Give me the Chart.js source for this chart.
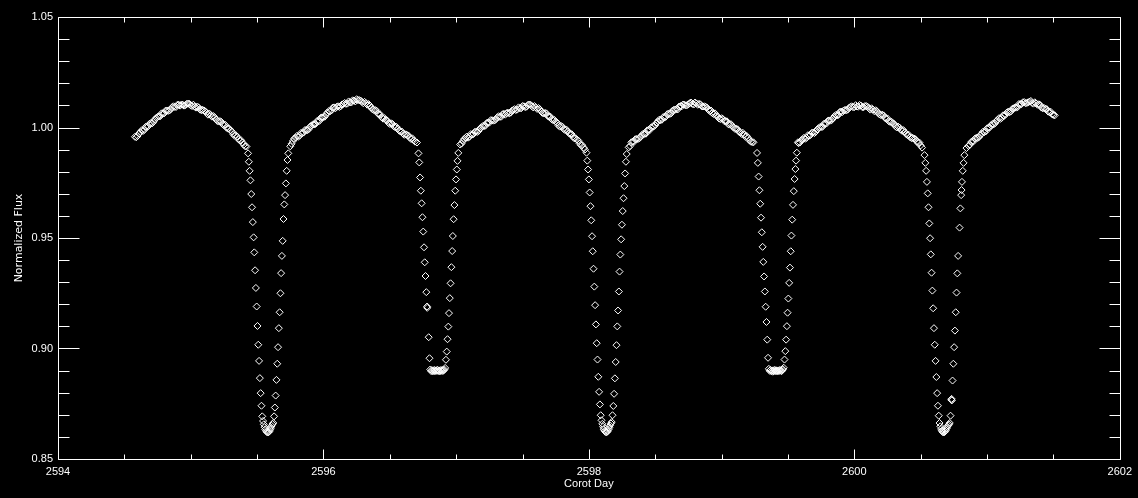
<!DOCTYPE html>
<html>
<head>
<meta charset="utf-8">
<script src="https://cdn.jsdelivr.net/npm/chart.js@4.4.1/dist/chart.umd.min.js"></script>
<style>
html, body { margin: 0; padding: 0; background: #000; }
#wrap { width: 1138px; height: 498px; }
</style>
</head>
<body>
<div id="wrap"><canvas id="c" width="1138" height="498"></canvas></div>
<script>
// ---- Labels and ticks ----
const xAxisTitle = 'Corot Day';
const yAxisTitle = 'Normalized Flux';
const xTickLabels = [2594, 2596, 2598, 2600, 2602];
const yTickLabels = [0.85, 0.90, 0.95, 1.00, 1.05];
const xMinorTicksPerMajor = 4;
const yMinorTicksPerMajor = 5;

// ---- Data (Corot day, normalized flux) ----
const hump1Day = [2594.58,2594.60,2594.62,2594.64,2594.66,2594.68,2594.70,2594.72,2594.74,2594.76,2594.78,2594.80,2594.82,2594.84,2594.86,2594.88,2594.90,2594.92,2594.94,2594.96,2594.98,2595.00,2595.02,2595.04,2595.06,2595.08,2595.10,2595.12,2595.14,2595.16,2595.18,2595.20,2595.22,2595.24,2595.26,2595.28,2595.30,2595.32,2595.34,2595.36,2595.38,2595.40,2595.42];
const hump1Flux = [0.9958,0.9962,0.9979,0.9984,1.0003,1.0006,1.0020,1.0026,1.0043,1.0050,1.0064,1.0064,1.0077,1.0077,1.0092,1.0093,1.0103,1.0099,1.0103,1.0101,1.0108,1.0100,1.0103,1.0090,1.0090,1.0078,1.0077,1.0066,1.0063,1.0049,1.0046,1.0030,1.0029,1.0015,1.0012,0.9995,0.9987,0.9970,0.9965,0.9947,0.9942,0.9922,0.9914];
const hump1bDay = [2594.59,2594.61,2594.63,2594.65,2594.67,2594.69,2594.71,2594.73,2594.75,2594.77,2594.79,2594.81,2594.83,2594.85,2594.87,2594.89,2594.91,2594.93,2594.95,2594.97,2594.99,2595.01,2595.03,2595.05,2595.07,2595.09,2595.11,2595.13,2595.15,2595.17,2595.19,2595.21,2595.23,2595.25,2595.27,2595.29,2595.31,2595.33,2595.35,2595.37,2595.39,2595.41];
const hump1bFlux = [0.9956,0.9973,0.9987,0.9989,1.0002,1.0017,1.0019,1.0037,1.0048,1.0051,1.0064,1.0076,1.0075,1.0083,1.0096,1.0093,1.0103,1.0104,1.0099,1.0107,1.0107,1.0097,1.0094,1.0095,1.0081,1.0080,1.0073,1.0058,1.0056,1.0052,1.0037,1.0027,1.0026,1.0011,0.9999,0.9995,0.9982,0.9963,0.9959,0.9941,0.9932,0.9915];

const primary1Day = [2595.432,2595.438,2595.444,2595.450,2595.456,2595.462,2595.468,2595.474,2595.479,2595.485,2595.491,2595.497,2595.503,2595.509,2595.515,2595.521,2595.527,2595.533,2595.539,2595.545,2595.551,2595.557,2595.562,2595.568,2595.574,2595.580,2595.586,2595.592,2595.598,2595.604,2595.610,2595.616,2595.622,2595.628,2595.634,2595.640,2595.646,2595.652,2595.658,2595.664,2595.670,2595.676,2595.681,2595.687,2595.693,2595.699,2595.705,2595.711,2595.717,2595.723,2595.729,2595.735];
const primary1Flux = [0.9883,0.9845,0.9804,0.9761,0.9699,0.9639,0.9572,0.9503,0.9435,0.9354,0.9274,0.9190,0.9102,0.9017,0.8944,0.8866,0.8798,0.8741,0.8693,0.8672,0.8657,0.8644,0.8634,0.8627,0.8622,0.8620,0.8621,0.8625,0.8632,0.8640,0.8650,0.8658,0.8663,0.8693,0.8733,0.8787,0.8858,0.8931,0.9006,0.9092,0.9164,0.9250,0.9341,0.9419,0.9487,0.9586,0.9652,0.9694,0.9747,0.9804,0.9853,0.9883];

const hump2Day = [2595.75,2595.77,2595.79,2595.81,2595.83,2595.85,2595.87,2595.89,2595.91,2595.93,2595.95,2595.97,2595.99,2596.01,2596.03,2596.05,2596.07,2596.09,2596.11,2596.13,2596.15,2596.17,2596.19,2596.21,2596.23,2596.25,2596.27,2596.29,2596.31,2596.33,2596.35,2596.37,2596.39,2596.41,2596.43,2596.45,2596.47,2596.49,2596.51,2596.53,2596.55,2596.57,2596.59,2596.61,2596.63,2596.65,2596.67,2596.69,2596.705];
const hump2Flux = [0.9915,0.9939,0.9954,0.9958,0.9975,0.9977,0.9989,0.9993,1.0009,1.0014,1.0028,1.0030,1.0046,1.0049,1.0068,1.0073,1.0090,1.0087,1.0096,1.0096,1.0107,1.0107,1.0118,1.0113,1.0122,1.0128,1.0124,1.0116,1.0116,1.0103,1.0099,1.0082,1.0079,1.0063,1.0058,1.0040,1.0035,1.0021,1.0019,1.0005,1.0003,0.9986,0.9982,0.9967,0.9966,0.9954,0.9951,0.9936,0.9932];
const hump2bDay = [2595.76,2595.78,2595.80,2595.82,2595.84,2595.86,2595.88,2595.90,2595.92,2595.94,2595.96,2595.98,2596.00,2596.02,2596.04,2596.06,2596.08,2596.10,2596.12,2596.14,2596.16,2596.18,2596.20,2596.22,2596.24,2596.26,2596.28,2596.30,2596.32,2596.34,2596.36,2596.38,2596.40,2596.42,2596.44,2596.46,2596.48,2596.50,2596.52,2596.54,2596.56,2596.58,2596.60,2596.62,2596.64,2596.66,2596.68];
const hump2bFlux = [0.9926,0.9950,0.9962,0.9963,0.9974,0.9988,0.9988,1.0004,1.0014,1.0016,1.0030,1.0044,1.0046,1.0058,1.0074,1.0077,1.0091,1.0094,1.0093,1.0104,1.0111,1.0108,1.0114,1.0123,1.0118,1.0124,1.0122,1.0110,1.0110,1.0106,1.0090,1.0079,1.0076,1.0059,1.0045,1.0042,1.0032,1.0016,1.0016,1.0001,0.9995,0.9982,0.9972,0.9969,0.9964,0.9948,0.9942];

const secondary1Day = [2596.716,2596.722,2596.728,2596.734,2596.740,2596.746,2596.752,2596.758,2596.763,2596.769,2596.775,2596.781,2596.782,2596.793,2596.799,2596.805,2596.811,2596.817,2596.823,2596.829,2596.835,2596.840,2596.846,2596.852,2596.858,2596.864,2596.870,2596.876,2596.882,2596.888,2596.894,2596.900,2596.906,2596.911,2596.917,2596.923,2596.929,2596.935,2596.941,2596.946,2596.952,2596.958,2596.964,2596.970,2596.975,2596.981,2596.987,2596.993,2596.999,2597.005,2597.010,2597.016];
const secondary1Flux = [0.9883,0.9842,0.9774,0.9714,0.9657,0.9594,0.9529,0.9458,0.9390,0.9328,0.9255,0.9190,0.9184,0.9051,0.8956,0.8905,0.8898,0.8902,0.8896,0.8900,0.8903,0.8897,0.8901,0.8899,0.8904,0.8898,0.8901,0.8896,0.8902,0.8899,0.8903,0.8898,0.8901,0.8905,0.8912,0.8949,0.8986,0.9042,0.9099,0.9160,0.9228,0.9295,0.9368,0.9441,0.9509,0.9585,0.9649,0.9714,0.9765,0.9810,0.9849,0.9885];

const hump3Day = [2597.03,2597.05,2597.07,2597.09,2597.11,2597.13,2597.15,2597.17,2597.19,2597.21,2597.23,2597.25,2597.27,2597.29,2597.31,2597.33,2597.35,2597.37,2597.39,2597.41,2597.43,2597.45,2597.47,2597.49,2597.51,2597.53,2597.55,2597.57,2597.59,2597.61,2597.63,2597.65,2597.67,2597.69,2597.71,2597.73,2597.75,2597.77,2597.79,2597.81,2597.83,2597.85,2597.87,2597.89,2597.91,2597.93,2597.95,2597.97];
const hump3Flux = [0.9923,0.9938,0.9952,0.9954,0.9970,0.9970,0.9981,0.9985,1.0001,1.0006,1.0020,1.0022,1.0033,1.0032,1.0046,1.0048,1.0060,1.0058,1.0067,1.0067,1.0079,1.0079,1.0091,1.0087,1.0096,1.0094,1.0104,1.0097,1.0097,1.0084,1.0083,1.0066,1.0066,1.0052,1.0049,1.0033,1.0027,1.0010,1.0007,0.9993,0.9991,0.9974,0.9970,0.9951,0.9945,0.9928,0.9920,0.9900];
const hump3bDay = [2597.04,2597.06,2597.08,2597.10,2597.12,2597.14,2597.16,2597.18,2597.20,2597.22,2597.24,2597.26,2597.28,2597.30,2597.32,2597.34,2597.36,2597.38,2597.40,2597.42,2597.44,2597.46,2597.48,2597.50,2597.52,2597.54,2597.56,2597.58,2597.60,2597.62,2597.64,2597.66,2597.68,2597.70,2597.72,2597.74,2597.76,2597.78,2597.80,2597.82,2597.84,2597.86,2597.88,2597.90,2597.92,2597.94,2597.96];
const hump3bFlux = [0.9927,0.9948,0.9959,0.9958,0.9968,0.9980,0.9980,0.9996,1.0006,1.0008,1.0022,1.0033,1.0031,1.0038,1.0051,1.0049,1.0062,1.0065,1.0064,1.0076,1.0083,1.0081,1.0087,1.0097,1.0092,1.0102,1.0103,1.0091,1.0091,1.0088,1.0074,1.0064,1.0064,1.0049,1.0037,1.0034,1.0022,1.0004,1.0004,0.9989,0.9983,0.9970,0.9958,0.9951,0.9941,0.9920,0.9909];

const primary2Day = [2597.982,2597.988,2597.994,2598.000,2598.006,2598.012,2598.018,2598.024,2598.029,2598.035,2598.041,2598.047,2598.053,2598.059,2598.065,2598.071,2598.077,2598.083,2598.089,2598.095,2598.101,2598.107,2598.112,2598.118,2598.124,2598.130,2598.136,2598.142,2598.148,2598.154,2598.160,2598.166,2598.172,2598.178,2598.184,2598.190,2598.196,2598.202,2598.208,2598.214,2598.220,2598.226,2598.231,2598.237,2598.243,2598.249,2598.255,2598.261,2598.267,2598.273,2598.279,2598.285];
const primary2Flux = [0.9886,0.9850,0.9810,0.9765,0.9706,0.9644,0.9580,0.9508,0.9440,0.9361,0.9280,0.9196,0.9109,0.9024,0.8950,0.8872,0.8804,0.8747,0.8698,0.8675,0.8659,0.8646,0.8635,0.8628,0.8623,0.8621,0.8622,0.8626,0.8633,0.8642,0.8652,0.8661,0.8667,0.8698,0.8740,0.8795,0.8865,0.8939,0.9015,0.9100,0.9172,0.9258,0.9348,0.9425,0.9494,0.9560,0.9622,0.9680,0.9735,0.9792,0.9845,0.9880];

const hump4Day = [2598.30,2598.32,2598.34,2598.36,2598.38,2598.40,2598.42,2598.44,2598.46,2598.48,2598.50,2598.52,2598.54,2598.56,2598.58,2598.60,2598.62,2598.64,2598.66,2598.68,2598.70,2598.72,2598.74,2598.76,2598.78,2598.80,2598.82,2598.84,2598.86,2598.88,2598.90,2598.92,2598.94,2598.96,2598.98,2599.00,2599.02,2599.04,2599.06,2599.08,2599.10,2599.12,2599.14,2599.16,2599.18,2599.20,2599.22,2599.24];
const hump4Flux = [0.9910,0.9933,0.9935,0.9948,0.9951,0.9966,0.9971,0.9987,0.9989,1.0005,1.0011,1.0028,1.0033,1.0047,1.0049,1.0063,1.0064,1.0080,1.0082,1.0095,1.0096,1.0103,1.0101,1.0110,1.0107,1.0113,1.0103,1.0105,1.0095,1.0094,1.0081,1.0077,1.0061,1.0056,1.0041,1.0042,1.0029,1.0028,1.0013,1.0008,0.9994,0.9992,0.9978,0.9976,0.9958,0.9953,0.9936,0.9933];
const hump4bDay = [2598.31,2598.33,2598.35,2598.37,2598.39,2598.41,2598.43,2598.45,2598.47,2598.49,2598.51,2598.53,2598.55,2598.57,2598.59,2598.61,2598.63,2598.65,2598.67,2598.69,2598.71,2598.73,2598.75,2598.77,2598.79,2598.81,2598.83,2598.85,2598.87,2598.89,2598.91,2598.93,2598.95,2598.97,2598.99,2599.01,2599.03,2599.05,2599.07,2599.09,2599.11,2599.13,2599.15,2599.17,2599.19,2599.21,2599.23];
const hump4bFlux = [0.9916,0.9936,0.9947,0.9948,0.9958,0.9972,0.9972,0.9989,1.0000,1.0005,1.0021,1.0035,1.0035,1.0045,1.0060,1.0061,1.0076,1.0081,1.0082,1.0097,1.0104,1.0100,1.0105,1.0113,1.0104,1.0109,1.0107,1.0096,1.0096,1.0090,1.0075,1.0065,1.0064,1.0049,1.0038,1.0038,1.0029,1.0015,1.0015,1.0000,0.9994,0.9981,0.9971,0.9968,0.9961,0.9942,0.9934];

const secondary2Day = [2599.267,2599.273,2599.279,2599.285,2599.291,2599.297,2599.303,2599.309,2599.314,2599.320,2599.326,2599.332,2599.338,2599.344,2599.350,2599.356,2599.362,2599.368,2599.374,2599.380,2599.386,2599.391,2599.397,2599.403,2599.409,2599.415,2599.421,2599.427,2599.433,2599.439,2599.445,2599.451,2599.457,2599.462,2599.468,2599.474,2599.480,2599.486,2599.492,2599.497,2599.503,2599.509,2599.515,2599.521,2599.526,2599.532,2599.538,2599.544,2599.550,2599.556,2599.561,2599.567];
const secondary2Flux = [0.9885,0.9840,0.9778,0.9716,0.9655,0.9592,0.9526,0.9460,0.9392,0.9326,0.9258,0.9189,0.9120,0.9040,0.8958,0.8908,0.8899,0.8903,0.8897,0.8901,0.8895,0.8900,0.8903,0.8897,0.8902,0.8899,0.8896,0.8901,0.8898,0.8903,0.8900,0.8897,0.8902,0.8906,0.8913,0.8950,0.8988,0.9040,0.9101,0.9162,0.9226,0.9297,0.9366,0.9440,0.9511,0.9583,0.9650,0.9712,0.9767,0.9812,0.9850,0.9886];

const hump5Day = [2599.575,2599.59,2599.61,2599.63,2599.65,2599.67,2599.69,2599.71,2599.73,2599.75,2599.77,2599.79,2599.81,2599.83,2599.85,2599.87,2599.89,2599.91,2599.93,2599.95,2599.97,2599.99,2600.01,2600.03,2600.05,2600.07,2600.09,2600.11,2600.13,2600.15,2600.17,2600.19,2600.21,2600.23,2600.25,2600.27,2600.29,2600.31,2600.33,2600.35,2600.37,2600.39,2600.41,2600.43,2600.45,2600.47,2600.49,2600.51];
const hump5Flux = [0.9933,0.9932,0.9946,0.9949,0.9965,0.9966,0.9977,0.9981,0.9997,1.0002,1.0016,1.0018,1.0032,1.0034,1.0051,1.0055,1.0070,1.0070,1.0080,1.0081,1.0093,1.0092,1.0101,1.0094,1.0099,1.0092,1.0097,1.0088,1.0087,1.0074,1.0074,1.0059,1.0058,1.0044,1.0041,1.0025,1.0020,1.0006,1.0004,0.9990,0.9988,0.9971,0.9967,0.9952,0.9950,0.9937,0.9932,0.9909];
const hump5bDay = [2599.58,2599.60,2599.62,2599.64,2599.66,2599.68,2599.70,2599.72,2599.74,2599.76,2599.78,2599.80,2599.82,2599.84,2599.86,2599.88,2599.90,2599.92,2599.94,2599.96,2599.98,2600.00,2600.02,2600.04,2600.06,2600.08,2600.10,2600.12,2600.14,2600.16,2600.18,2600.20,2600.22,2600.24,2600.26,2600.28,2600.30,2600.32,2600.34,2600.36,2600.38,2600.40,2600.42,2600.44,2600.46,2600.48,2600.50];
const hump5bFlux = [0.9929,0.9942,0.9953,0.9953,0.9963,0.9976,0.9975,0.9991,1.0001,1.0003,1.0017,1.0030,1.0031,1.0041,1.0056,1.0057,1.0072,1.0077,1.0077,1.0089,1.0096,1.0092,1.0095,1.0102,1.0092,1.0097,1.0094,1.0081,1.0081,1.0078,1.0066,1.0056,1.0055,1.0040,1.0028,1.0026,1.0016,1.0000,1.0000,0.9985,0.9979,0.9966,0.9956,0.9953,0.9947,0.9930,0.9919];

const primary3Day = [2600.529,2600.535,2600.541,2600.547,2600.553,2600.559,2600.565,2600.571,2600.576,2600.582,2600.588,2600.594,2600.600,2600.606,2600.612,2600.618,2600.624,2600.630,2600.636,2600.642,2600.648,2600.654,2600.659,2600.665,2600.671,2600.677,2600.683,2600.689,2600.695,2600.701,2600.707,2600.713,2600.719,2600.725,2600.731,2600.733,2600.735,2600.740,2600.746,2600.752,2600.758,2600.764,2600.770,2600.776,2600.782,2600.793,2600.799,2600.805,2600.808,2600.811,2600.817,2600.823,2600.829];
const primary3Flux = [0.9875,0.9840,0.9804,0.9754,0.9702,0.9639,0.9566,0.9499,0.9426,0.9343,0.9262,0.9182,0.9092,0.9017,0.8944,0.8871,0.8798,0.8741,0.8696,0.8663,0.8648,0.8636,0.8628,0.8623,0.8620,0.8621,0.8624,0.8630,0.8638,0.8646,0.8652,0.8657,0.8663,0.8696,0.8768,0.8772,0.8765,0.8855,0.8931,0.9006,0.9081,0.9164,0.9253,0.9340,0.9419,0.9547,0.9634,0.9694,0.9717,0.9754,0.9804,0.9840,0.9875];

const hump6Day = [2600.845,2600.86,2600.88,2600.90,2600.92,2600.94,2600.96,2600.98,2601.00,2601.02,2601.04,2601.06,2601.08,2601.10,2601.12,2601.14,2601.16,2601.18,2601.20,2601.22,2601.24,2601.26,2601.28,2601.30,2601.32,2601.34,2601.36,2601.38,2601.40,2601.42,2601.44,2601.46,2601.48,2601.50,2601.51];
const hump6Flux = [0.9907,0.9917,0.9934,0.9938,0.9954,0.9957,0.9973,0.9979,0.9996,1.0000,1.0016,1.0019,1.0035,1.0039,1.0055,1.0059,1.0072,1.0073,1.0087,1.0090,1.0106,1.0106,1.0115,1.0111,1.0117,1.0111,1.0114,1.0103,1.0102,1.0087,1.0085,1.0072,1.0071,1.0057,1.0055];
const hump6bDay = [2600.87,2600.89,2600.91,2600.93,2600.95,2600.97,2600.99,2601.01,2601.03,2601.05,2601.07,2601.09,2601.11,2601.13,2601.15,2601.17,2601.19,2601.21,2601.23,2601.25,2601.27,2601.29,2601.31,2601.33,2601.35,2601.37,2601.39,2601.41,2601.43,2601.45,2601.47,2601.49];
const hump6bFlux = [0.9921,0.9937,0.9950,0.9953,0.9965,0.9981,0.9982,0.9999,1.0010,1.0014,1.0029,1.0042,1.0043,1.0053,1.0068,1.0069,1.0084,1.0090,1.0092,1.0106,1.0114,1.0110,1.0114,1.0120,1.0108,1.0109,1.0105,1.0090,1.0088,1.0083,1.0069,1.0060];

// ---- Build the point list ----
const segments = [
  [hump1Day, hump1Flux], [hump1bDay, hump1bFlux], [primary1Day, primary1Flux],
  [hump2Day, hump2Flux], [hump2bDay, hump2bFlux], [secondary1Day, secondary1Flux],
  [hump3Day, hump3Flux], [hump3bDay, hump3bFlux], [primary2Day, primary2Flux],
  [hump4Day, hump4Flux], [hump4bDay, hump4bFlux], [secondary2Day, secondary2Flux],
  [hump5Day, hump5Flux], [hump5bDay, hump5bFlux], [primary3Day, primary3Flux],
  [hump6Day, hump6Flux], [hump6bDay, hump6bFlux]
];
const points = [];
segments.forEach(([d, f]) => {
  const n = Math.min(d.length, f.length);
  for (let i = 0; i < n; i++) points.push({ x: d[i], y: f[i] });
});

const FONT = { family: "'Liberation Sans', 'DejaVu Sans', sans-serif", size: 11 };
const TITLE_FONT_Y = { family: "'DejaVu Sans', 'Liberation Sans', sans-serif", size: 11 };

const blackBackground = {
  id: 'blackBackground',
  beforeDraw(chart) {
    const ctx = chart.ctx;
    ctx.save();
    ctx.fillStyle = '#000';
    ctx.fillRect(0, 0, chart.width, chart.height);
    ctx.restore();
  }
};

const frameAndTicks = {
  id: 'frameAndTicks',
  afterDatasetsDraw(chart) {
    const { ctx, chartArea: a, scales: { x, y } } = chart;
    const L = Math.round(a.left) + 0.5, R = Math.round(a.right) + 0.5;
    const T = Math.round(a.top) + 0.5, B = Math.round(a.bottom) + 0.5;
    ctx.save();
    ctx.strokeStyle = '#fff';
    ctx.lineWidth = 1;
    ctx.beginPath();
    ctx.rect(L, T, R - L, B - T);
    ctx.stroke();
    ctx.beginPath();
    for (let m = 0; m < xTickLabels.length; m++) {
      const v0 = xTickLabels[m];
      const last = m === xTickLabels.length - 1;
      const nMinor = last ? 1 : xMinorTicksPerMajor;
      const step = last ? 0 : (xTickLabels[m + 1] - v0) / xMinorTicksPerMajor;
      for (let k = 0; k < nMinor; k++) {
        const px = Math.round(x.getPixelForValue(v0 + k * step)) + 0.5;
        const len = k === 0 ? 10 : 5;
        ctx.moveTo(px, B); ctx.lineTo(px, B - len);
        ctx.moveTo(px, T); ctx.lineTo(px, T + len);
      }
    }
    for (let m = 0; m < yTickLabels.length; m++) {
      const v0 = yTickLabels[m];
      const last = m === yTickLabels.length - 1;
      const nMinor = last ? 1 : yMinorTicksPerMajor;
      const step = last ? 0 : (yTickLabels[m + 1] - v0) / yMinorTicksPerMajor;
      for (let k = 0; k < nMinor; k++) {
        const py = Math.round(y.getPixelForValue(v0 + k * step)) + 0.5;
        const len = k === 0 ? 21 : 11;
        ctx.moveTo(L, py); ctx.lineTo(L + len, py);
        ctx.moveTo(R, py); ctx.lineTo(R - len, py);
      }
    }
    ctx.stroke();
    ctx.restore();
  }
};

new Chart(document.getElementById('c'), {
  type: 'scatter',
  data: {
    datasets: [{
      data: points,
      pointStyle: 'rectRot',
      pointRadius: 3.5,
      pointBorderWidth: 1,
      pointBorderColor: '#ffffff',
      pointBackgroundColor: 'rgba(0,0,0,0)',
      showLine: false
    }]
  },
  options: {
    responsive: false,
    animation: false,
    devicePixelRatio: 1,
    layout: { padding: { left: 0, right: 17, top: 17, bottom: 0 } },
    plugins: { legend: { display: false }, tooltip: { enabled: false } },
    scales: {
      x: {
        type: 'linear',
        min: xTickLabels[0],
        max: xTickLabels[xTickLabels.length - 1],
        afterBuildTicks: (s) => { s.ticks = xTickLabels.map(v => ({ value: v })); },
        afterFit: (s) => { s.height = 39; },
        grid: { display: false, drawTicks: false },
        border: { display: false },
        ticks: {
          color: '#fff', font: FONT, padding: 6, autoSkip: false, maxRotation: 0,
          callback: (v) => String(v)
        },
        title: { display: true, text: xAxisTitle, color: '#fff', font: FONT, padding: { top: 0, bottom: 7 } }
      },
      y: {
        type: 'linear',
        min: yTickLabels[0],
        max: yTickLabels[yTickLabels.length - 1],
        afterBuildTicks: (s) => { s.ticks = yTickLabels.map(v => ({ value: v })); },
        afterFit: (s) => { s.width = 58; },
        grid: { display: false, drawTicks: false },
        border: { display: false },
        ticks: {
          color: '#fff', font: FONT, padding: 5,
          callback: (v) => Number(v).toFixed(2)
        },
        title: { display: true, text: yAxisTitle, color: '#fff', font: TITLE_FONT_Y, padding: { top: 13, bottom: 0 } }
      }
    }
  },
  plugins: [blackBackground, frameAndTicks]
});
</script>
</body>
</html>
